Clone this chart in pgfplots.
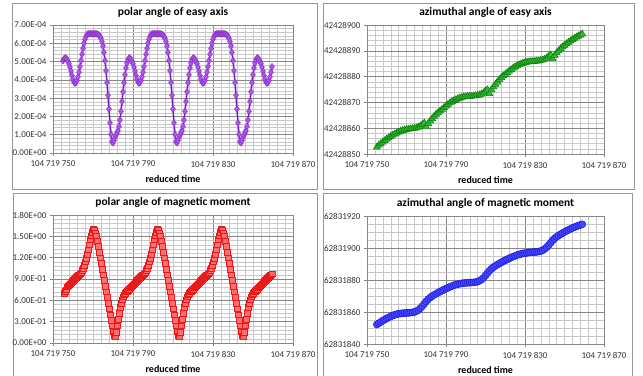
\documentclass[border=0pt]{standalone}
\usepackage{fontspec}
\setmainfont{Carlito}
\usepackage{pgfplots}
\pgfplotsset{compat=1.18}
\definecolor{boxgray}{RGB}{150,150,150}
\definecolor{majgray}{RGB}{134,134,134}
\definecolor{mingray}{RGB}{200,200,200}
\definecolor{purpLine}{RGB}{110,30,170}
\definecolor{purpFill}{RGB}{175,85,235}
\definecolor{purpDraw}{RGB}{130,45,195}
\definecolor{redLine}{RGB}{240,0,0}
\definecolor{redFill}{RGB}{255,110,110}
\definecolor{redDraw}{RGB}{235,25,25}
\definecolor{grnLine}{RGB}{0,120,0}
\definecolor{grnFill}{RGB}{60,180,60}
\definecolor{grnDraw}{RGB}{0,130,0}
\definecolor{bluLine}{RGB}{0,0,230}
\definecolor{bluFill}{RGB}{70,70,255}
\definecolor{bluDraw}{RGB}{20,20,220}
\pgfplotsset{excel/.style={
  scale only axis, anchor=south west, width=240bp, height=128bp,
  xmin=0, xmax=120, xtick={0,40,80,120},
  xticklabels={104 719 750,104 719 790,104 719 830,104 719 870},
  minor x tick num=9,
  scaled y ticks=false,
  grid=both,
  major grid style={draw=majgray,line width=0.5bp},
  minor grid style={draw=mingray,line width=0.4bp},
  axis line style={draw=majgray,line width=0.6bp},
  tick align=outside, tick pos=left, major tick length=3bp, minor tick length=0pt,
  tick style={draw=majgray,line width=0.6bp},
  ticklabel style={font=\fontsize{9}{10}\selectfont, text=black!80},
  xticklabel style={yshift=-1.5bp},
  xlabel={reduced time},
  xlabel style={font=\bfseries\fontsize{10}{12}\selectfont, yshift=-1bp},
  title style={font=\bfseries\fontsize{11.5}{13}\selectfont, at={(0.5,1)}, anchor=base, yshift=3.5bp},
}}
\begin{document}
\begin{tikzpicture}
\useasboundingbox (0,0) rectangle (643bp,376bp);
\fill[white] (0,0) rectangle (643bp,376bp);
\draw[boxgray,line width=0.8bp] (12.5bp,372.5bp) rectangle (317.5bp,187bp);
\draw[boxgray,line width=0.8bp] (323bp,372.5bp) rectangle (634bp,187bp);
\draw[boxgray,line width=0.8bp] (13bp,182.5bp) rectangle (317.5bp,-5bp);
\draw[boxgray,line width=0.8bp] (323bp,182.5bp) rectangle (632bp,-5bp);

% ---------- polar angle of easy axis ----------
\begin{axis}[excel, at={(53bp,223bp)},
  title={polar angle of easy axis},
  ymin=0, ymax=0.0007,
  ytick={0,0.0001,0.0002,0.0003,0.0004,0.0005,0.0006,0.0007},
  yticklabels={0.00E+00,1.00E-04,2.00E-04,3.00E-04,4.00E-04,5.00E-04,6.00E-04,7.00E-04},
  minor y tick num=4]
\addplot[purpLine, line width=1.5bp, mark=diamond*, mark size=3.3bp,
  mark options={fill=purpFill, draw=purpDraw, line width=0.4bp}] coordinates {
(5,5.05e-4)(5.5,5.15e-4)
(6,5.20e-4)(6.5,5.18e-4)(7,5.12e-4)(7.5,5.02e-4)(8,4.88e-4)(8.5,4.70e-4)(9,4.48e-4)(9.5,4.24e-4)(10,4.03e-4)(10.5,3.88e-4)(11,3.82e-4)(11.5,3.86e-4)(12,3.98e-4)(12.5,4.17e-4)(13,4.42e-4)(13.5,4.72e-4)(14,5.05e-4)(14.5,5.40e-4)(15,5.72e-4)(15.5,6.00e-4)(16,6.22e-4)(16.5,6.38e-4)(17,6.47e-4)(17.5,6.51e-4)(18,6.52e-4)(18.5,6.52e-4)(19,6.52e-4)(19.5,6.52e-4)(20,6.52e-4)(20.5,6.52e-4)(21,6.52e-4)(21.5,6.52e-4)(22,6.51e-4)(22.5,6.49e-4)(23,6.45e-4)(23.5,6.38e-4)(24,6.27e-4)(24.5,6.10e-4)(25,5.85e-4)(25.5,5.50e-4)(26,5.05e-4)(26.5,4.50e-4)(27,3.85e-4)(27.5,3.15e-4)(28,2.40e-4)(28.5,1.65e-4)(29,1.02e-4)(29.5,0.62e-4)(30,0.55e-4)(30.5,0.68e-4)(31,0.84e-4)(31.5,0.98e-4)(32,1.10e-4)(32.5,1.24e-4)(33,1.45e-4)(33.5,1.80e-4)(34,2.28e-4)(34.5,2.82e-4)(35,3.35e-4)(35.5,3.85e-4)(36,4.28e-4)(36.5,4.65e-4)(37,4.92e-4)(37.5,5.10e-4)
(38,5.20e-4)(38.5,5.18e-4)(39,5.12e-4)(39.5,5.02e-4)(40,4.88e-4)(40.5,4.70e-4)(41,4.48e-4)(41.5,4.24e-4)(42,4.03e-4)(42.5,3.88e-4)(43,3.82e-4)(43.5,3.86e-4)(44,3.98e-4)(44.5,4.17e-4)(45,4.42e-4)(45.5,4.72e-4)(46,5.05e-4)(46.5,5.40e-4)(47,5.72e-4)(47.5,6.00e-4)(48,6.22e-4)(48.5,6.38e-4)(49,6.47e-4)(49.5,6.51e-4)(50,6.52e-4)(50.5,6.52e-4)(51,6.52e-4)(51.5,6.52e-4)(52,6.52e-4)(52.5,6.52e-4)(53,6.52e-4)(53.5,6.52e-4)(54,6.51e-4)(54.5,6.49e-4)(55,6.45e-4)(55.5,6.38e-4)(56,6.27e-4)(56.5,6.10e-4)(57,5.85e-4)(57.5,5.50e-4)(58,5.05e-4)(58.5,4.50e-4)(59,3.85e-4)(59.5,3.15e-4)(60,2.40e-4)(60.5,1.65e-4)(61,1.02e-4)(61.5,0.62e-4)(62,0.55e-4)(62.5,0.68e-4)(63,0.84e-4)(63.5,0.98e-4)(64,1.10e-4)(64.5,1.24e-4)(65,1.45e-4)(65.5,1.80e-4)(66,2.28e-4)(66.5,2.82e-4)(67,3.35e-4)(67.5,3.85e-4)(68,4.28e-4)(68.5,4.65e-4)(69,4.92e-4)(69.5,5.10e-4)
(70,5.20e-4)(70.5,5.18e-4)(71,5.12e-4)(71.5,5.02e-4)(72,4.88e-4)(72.5,4.70e-4)(73,4.48e-4)(73.5,4.24e-4)(74,4.03e-4)(74.5,3.88e-4)(75,3.82e-4)(75.5,3.86e-4)(76,3.98e-4)(76.5,4.17e-4)(77,4.42e-4)(77.5,4.72e-4)(78,5.05e-4)(78.5,5.40e-4)(79,5.72e-4)(79.5,6.00e-4)(80,6.22e-4)(80.5,6.38e-4)(81,6.47e-4)(81.5,6.51e-4)(82,6.52e-4)(82.5,6.52e-4)(83,6.52e-4)(83.5,6.52e-4)(84,6.52e-4)(84.5,6.52e-4)(85,6.52e-4)(85.5,6.52e-4)(86,6.51e-4)(86.5,6.49e-4)(87,6.45e-4)(87.5,6.38e-4)(88,6.27e-4)(88.5,6.10e-4)(89,5.85e-4)(89.5,5.50e-4)(90,5.05e-4)(90.5,4.50e-4)(91,3.85e-4)(91.5,3.15e-4)(92,2.40e-4)(92.5,1.65e-4)(93,1.02e-4)(93.5,0.62e-4)(94,0.55e-4)(94.5,0.68e-4)(95,0.84e-4)(95.5,0.98e-4)(96,1.10e-4)(96.5,1.24e-4)(97,1.45e-4)(97.5,1.80e-4)(98,2.28e-4)(98.5,2.82e-4)(99,3.35e-4)(99.5,3.85e-4)(100,4.28e-4)(100.5,4.65e-4)(101,4.92e-4)(101.5,5.10e-4)
(102,5.20e-4)(102.5,5.18e-4)(103,5.12e-4)(103.5,5.02e-4)(104,4.88e-4)(104.5,4.70e-4)(105,4.48e-4)(105.5,4.24e-4)(106,4.03e-4)(106.5,3.88e-4)(107,3.82e-4)(107.5,3.86e-4)(108,3.98e-4)(108.5,4.17e-4)(109,4.42e-4)(109.5,4.72e-4)
};
\end{axis}

% ---------- azimuthal angle of easy axis ----------
\begin{axis}[excel, at={(367bp,222bp)}, width=237bp, height=129bp,
  title={azimuthal angle of easy axis},
  ymin=850, ymax=900, ytick={850,860,870,880,890,900},
  yticklabels={42428850,42428860,42428870,42428880,42428890,42428900},
  minor y tick num=4]
\addplot[grnLine, line width=1.5bp, mark=triangle*, mark size=4bp,
  mark options={fill=grnFill, draw=grnDraw, line width=0.5bp}] coordinates {
(5,852.7)(6,853.4)(7,854.0)(8,854.6)(9,855.2)(10,855.8)(11,856.3)(12,856.8)(13,857.3)(14,857.7)(15,858.1)(16,858.5)(17,858.8)(18,859.1)(19,859.3)(20,859.5)(21,859.6)(22,859.7)(23,859.8)(24,859.9)(25,860.1)(26,860.4)(27,860.8)(28,861.4)(29,862.0)(30,860.5)(31,861.8)(32,862.8)(33,863.7)(34,864.6)(35,865.4)(36,866.1)(37,866.7)
(38,867.3)(39,868.0)(40,868.6)(41,869.2)(42,869.8)(43,870.3)(44,870.7)(45,871.1)(46,871.4)(47,871.7)(48,871.9)(49,872.1)(50,872.2)(51,872.3)(52,872.35)(53,872.4)(54,872.5)(55,872.6)(56,872.75)(57,872.95)(58,873.25)(59,873.7)(60,874.4)(61,874.9)(62,873.4)(63,874.9)(64,876.0)(65,877.0)(66,877.9)(67,878.8)(68,879.6)(69,880.3)
(70,880.8)(71,881.5)(72,882.1)(73,882.7)(74,883.3)(75,883.8)(76,884.2)(77,884.6)(78,884.9)(79,885.2)(80,885.4)(81,885.6)(82,885.7)(83,885.8)(84,885.85)(85,885.9)(86,886.0)(87,886.1)(88,886.25)(89,886.45)(90,886.75)(91,887.2)(92,887.9)(93,888.4)(94,886.9)(95,888.2)(96,889.2)(97,890.0)(98,890.8)(99,891.5)(100,892.1)(101,892.7)
(102,893.3)(103,893.8)(104,894.3)(105,894.8)(106,895.3)(107,895.7)(108,896.1)(109,896.5)
};
\end{axis}

% ---------- polar angle of magnetic moment ----------
\begin{axis}[excel, at={(53bp,33bp)},
  title={polar angle of magnetic moment},
  ymin=0, ymax=1.8, ytick={0,0.3,0.6,0.9,1.2,1.5,1.8},
  yticklabels={0.00E+00,3.00E-01,6.00E-01,9.00E-01,1.20E+00,1.50E+00,1.80E+00},
  minor y tick num=4]
\addplot[redLine, line width=1.2bp, mark=square*, mark size=2.8bp,
  mark options={fill=redFill, draw=redDraw, line width=0.5bp}] coordinates {
(5.5,0.70)(6,0.73)(6.5,0.75)(7,0.79)(7.5,0.805)(8,0.82)(8.5,0.835)(9,0.85)(9.5,0.865)(10,0.88)(10.5,0.895)(11,0.91)(11.5,0.925)(12,0.94)(12.5,0.95)(13,0.96)(13.5,0.975)(14,0.99)(14.5,1.02)(15,1.05)(15.5,1.09)(16,1.14)(16.5,1.19)(17,1.25)(17.5,1.31)(18,1.38)(18.5,1.45)(19,1.51)(19.5,1.56)(20,1.60)(20.5,1.59)(21,1.55)(21.5,1.50)(22,1.43)(22.5,1.36)(23,1.28)(23.5,1.20)(24,1.12)(24.5,1.04)(25,0.96)(25.5,0.88)(26,0.80)(26.5,0.72)(27,0.64)(27.5,0.56)(28,0.48)(28.5,0.40)(29,0.32)(29.5,0.24)(30,0.16)(30.5,0.10)(31,0.09)(31.5,0.15)(32,0.24)(32.5,0.33)(33,0.42)(33.5,0.50)(34,0.56)(34.5,0.61)(35,0.65)(35.5,0.68)(36,0.70)(36.5,0.72)(37,0.73)(37.5,0.745)
(38,0.76)(38.5,0.775)(39,0.79)(39.5,0.805)(40,0.82)(40.5,0.835)(41,0.85)(41.5,0.865)(42,0.88)(42.5,0.895)(43,0.91)(43.5,0.925)(44,0.94)(44.5,0.95)(45,0.96)(45.5,0.975)(46,0.99)(46.5,1.02)(47,1.05)(47.5,1.09)(48,1.14)(48.5,1.19)(49,1.25)(49.5,1.31)(50,1.38)(50.5,1.45)(51,1.51)(51.5,1.56)(52,1.60)(52.5,1.59)(53,1.55)(53.5,1.50)(54,1.43)(54.5,1.36)(55,1.28)(55.5,1.20)(56,1.12)(56.5,1.04)(57,0.96)(57.5,0.88)(58,0.80)(58.5,0.72)(59,0.64)(59.5,0.56)(60,0.48)(60.5,0.40)(61,0.32)(61.5,0.24)(62,0.16)(62.5,0.10)(63,0.09)(63.5,0.15)(64,0.24)(64.5,0.33)(65,0.42)(65.5,0.50)(66,0.56)(66.5,0.61)(67,0.65)(67.5,0.68)(68,0.70)(68.5,0.72)(69,0.73)(69.5,0.745)
(70,0.76)(70.5,0.775)(71,0.79)(71.5,0.805)(72,0.82)(72.5,0.835)(73,0.85)(73.5,0.865)(74,0.88)(74.5,0.895)(75,0.91)(75.5,0.925)(76,0.94)(76.5,0.95)(77,0.96)(77.5,0.975)(78,0.99)(78.5,1.02)(79,1.05)(79.5,1.09)(80,1.14)(80.5,1.19)(81,1.25)(81.5,1.31)(82,1.38)(82.5,1.45)(83,1.51)(83.5,1.56)(84,1.60)(84.5,1.59)(85,1.55)(85.5,1.50)(86,1.43)(86.5,1.36)(87,1.28)(87.5,1.20)(88,1.12)(88.5,1.04)(89,0.96)(89.5,0.88)(90,0.80)(90.5,0.72)(91,0.64)(91.5,0.56)(92,0.48)(92.5,0.40)(93,0.32)(93.5,0.24)(94,0.16)(94.5,0.10)(95,0.09)(95.5,0.15)(96,0.24)(96.5,0.33)(97,0.42)(97.5,0.50)(98,0.56)(98.5,0.61)(99,0.65)(99.5,0.68)(100,0.70)(100.5,0.72)(101,0.73)(101.5,0.745)
(102,0.76)(102.5,0.775)(103,0.79)(103.5,0.805)(104,0.82)(104.5,0.835)(105,0.85)(105.5,0.865)(106,0.88)(106.5,0.895)(107,0.91)(107.5,0.925)(108,0.94)(108.5,0.95)(109,0.96)(109.5,0.975)
};
\end{axis}

% ---------- azimuthal angle of magnetic moment ----------
\begin{axis}[excel, at={(367bp,32bp)}, width=237bp, height=128bp,
  title={azimuthal angle of magnetic moment},
  ymin=840, ymax=920, ytick={840,860,880,900,920},
  yticklabels={62831840,62831860,62831880,62831900,62831920},
  minor y tick num=3]
\addplot[bluLine, line width=1.2bp, mark=*, mark size=3.6bp,
  mark options={fill=bluFill, draw=bluDraw, line width=0.4bp}] coordinates {
(5,852.2)(6,853.0)(7,853.8)(8,854.6)(9,855.3)(10,856.0)(11,856.6)(12,857.2)(13,857.8)(14,858.2)(15,858.6)(16,858.9)(17,859.05)(18,859.2)(19,859.3)(20,859.4)(21,859.5)(22,859.6)(23,859.75)(24,860.0)(25,860.5)(26,861.2)(27,862.3)(28,863.6)(29,865.2)(30,866.7)(31,868.0)(32,869.0)(33,869.9)(34,870.7)(35,871.4)(36,872.1)(37,872.8)
(38,873.4)(39,874.0)(40,874.6)(41,875.2)(42,875.7)(43,876.2)(44,876.7)(45,877.1)(46,877.4)(47,877.7)(48,877.9)(49,878.05)(50,878.2)(51,878.3)(52,878.35)(53,878.4)(54,878.5)(55,878.7)(56,879.0)(57,879.5)(58,880.3)(59,881.4)(60,882.8)(61,884.3)(62,885.8)(63,887.0)(64,888.0)(65,888.8)(66,889.6)(67,890.3)(68,891.0)(69,891.7)
(70,892.3)(71,892.9)(72,893.5)(73,894.1)(74,894.6)(75,895.1)(76,895.6)(77,895.95)(78,896.3)(79,896.6)(80,896.8)(81,897.0)(82,897.2)(83,897.3)(84,897.4)(85,897.5)(86,897.6)(87,897.8)(88,898.1)(89,898.6)(90,899.4)(91,900.5)(92,901.8)(93,903.3)(94,904.8)(95,906.0)(96,907.0)(97,907.8)(98,908.6)(99,909.3)(100,910.0)(101,910.7)
(102,911.3)(103,911.9)(104,912.5)(105,913.0)(106,913.5)(107,914.0)(108,914.4)(109,914.8)
};
\end{axis}
\end{tikzpicture}
\end{document}
